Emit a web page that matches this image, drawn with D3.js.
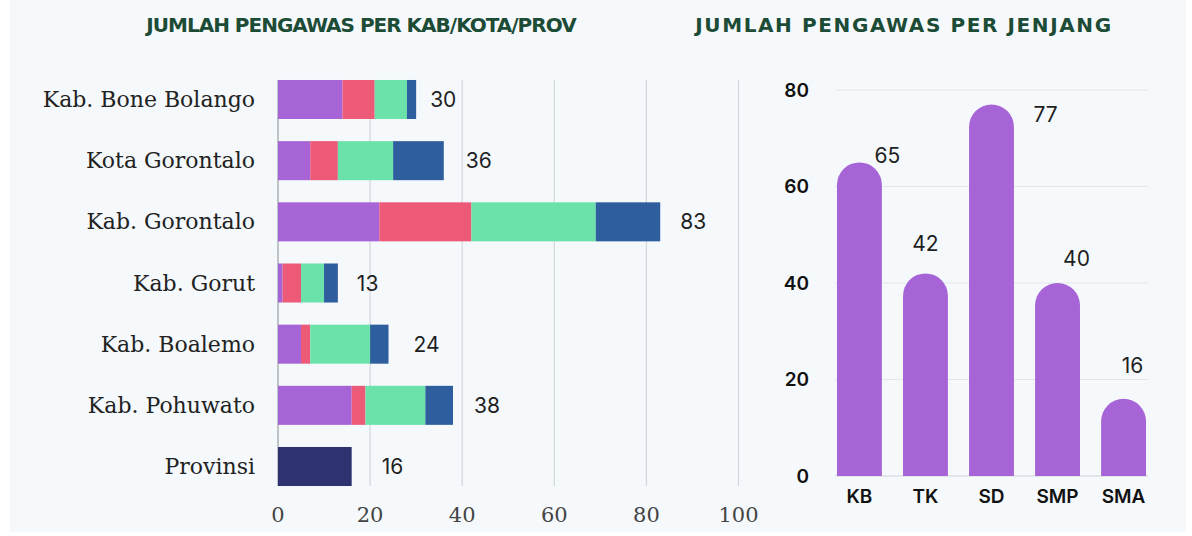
<!DOCTYPE html>
<html>
<head>
<meta charset="utf-8">
<script src="https://cdn.jsdelivr.net/npm/d3@7"></script>
<style>
  html, body { margin: 0; padding: 0; background: #ffffff; }
  svg { display: block; }
</style>
</head>
<body>
<div id="chart"></div>
<script>
// data: pengawas per kab/kota/prov, stacked by jenjang
var regions = ["Kab. Bone Bolango", "Kota Gorontalo", "Kab. Gorontalo", "Kab. Gorut", "Kab. Boalemo", "Kab. Pohuwato", "Provinsi"];
var levels = ["KB", "TK", "SD", "SMP", "SMA"];
var kbByRegion = [14, 7, 22, 1, 5, 16, 0];
var tkByRegion = [7, 6, 20, 4, 2, 3, 0];
var sdByRegion = [7, 12, 27, 5, 13, 13, 0];
var smpByRegion = [2, 11, 14, 3, 4, 6, 0];
var smaByRegion = [0, 0, 0, 0, 0, 0, 16];
var levelTotals = [65, 42, 77, 40, 16];
var hTicks = [0, 20, 40, 60, 80, 100];
var vTicks = [0, 20, 40, 60, 80];

/* colours and label nudges (layout only) */
var colors = { KB: "#a764d6", TK: "#ec5a78", SD: "#6ae2aa", SMP: "#2f5e9e", SMA: "#2f3270" };
var titleColor = "#1c4b36";
var leftLabelGap = [14, 22, 20, 19, 25, 21, 30];
var rightLabelNudge = [[28, -7], [0, -30], [54, 10], [19, -25], [9, -33]];

var W = 1192, H = 536;
var svg = d3.select("#chart").append("svg").attr("width", W).attr("height", H);

/* light panel behind everything */
svg.append("rect").attr("x", 10).attr("y", 0).attr("width", W - 16).attr("height", H - 4)
    .attr("fill", "#f5f9fc");

/* titles */
function title(x, spacing, txt) {
  svg.append("text")
      .attr("x", x).attr("y", 25)
      .attr("text-anchor", "middle").attr("dominant-baseline", "central")
      .attr("font-family", "DejaVu Sans").attr("font-weight", "bold")
      .attr("font-size", 20).attr("letter-spacing", spacing)
      .attr("fill", titleColor)
      .text(txt);
}
title(361, -1, "JUMLAH PENGAWAS PER KAB/KOTA/PROV");
title(904, 1.6, "JUMLAH PENGAWAS PER JENJANG");

/* ---------- left: stacked horizontal bars ---------- */
var rows = regions.map(function (r, i) {
  return { region: r, KB: kbByRegion[i], TK: tkByRegion[i], SD: sdByRegion[i], SMP: smpByRegion[i], SMA: smaByRegion[i] };
});
var x = d3.scaleLinear().domain([0, 100]).range([278, 738.5]);
var y = d3.scaleBand().domain(regions).range([49.4, 516.6]).paddingInner(0.362).paddingOuter(0.5);
var gridTop = y(regions[0]);
var gridBottom = y(regions[regions.length - 1]) + y.bandwidth();

var left = svg.append("g");
left.selectAll("line.grid")
    .data(hTicks)
    .enter().append("line")
    .attr("class", "grid")
    .attr("x1", function (d) { return x(d); })
    .attr("x2", function (d) { return x(d); })
    .attr("y1", gridTop).attr("y2", gridBottom)
    .attr("stroke", function (d) { return d === 0 ? "#9a9ea3" : "#d3d7db"; })
    .attr("stroke-width", 1.2);

var stack = d3.stack().keys(levels)(rows);
left.selectAll("g.layer")
    .data(stack)
    .enter().append("g")
    .attr("fill", function (d) { return colors[d.key]; })
    .selectAll("rect")
    .data(function (d) { return d; })
    .enter().append("rect")
    .attr("x", function (d) { return x(d[0]); })
    .attr("y", function (d) { return y(d.data.region); })
    .attr("width", function (d) { return x(d[1]) - x(d[0]); })
    .attr("height", y.bandwidth());

/* totals */
left.selectAll("text.total")
    .data(rows)
    .enter().append("text")
    .attr("class", "total")
    .attr("x", function (d, i) { return x(d.KB + d.TK + d.SD + d.SMP + d.SMA) + leftLabelGap[i]; })
    .attr("y", function (d) { return y(d.region) + y.bandwidth() / 2; })
    .attr("dominant-baseline", "central")
    .attr("font-family", "Inter").attr("font-size", 21)
    .attr("fill", "#1f1f1f")
    .text(function (d) { return d.KB + d.TK + d.SD + d.SMP + d.SMA; });

/* category labels */
left.selectAll("text.cat")
    .data(regions)
    .enter().append("text")
    .attr("class", "cat")
    .attr("x", 255)
    .attr("y", function (d) { return y(d) + y.bandwidth() / 2; })
    .attr("text-anchor", "end").attr("dominant-baseline", "central")
    .attr("font-family", "DejaVu Serif").attr("font-size", 22)
    .attr("fill", "#222")
    .text(function (d) { return d; });

/* x tick labels */
left.selectAll("text.tick")
    .data(hTicks)
    .enter().append("text")
    .attr("class", "tick")
    .attr("x", function (d) { return x(d); })
    .attr("y", 515)
    .attr("text-anchor", "middle").attr("dominant-baseline", "central")
    .attr("font-family", "DejaVu Serif").attr("font-weight", 300).attr("font-size", 21)
    .attr("fill", "#444")
    .text(function (d) { return d; });

/* ---------- right: rounded vertical bars ---------- */
var bx = d3.scaleBand().domain(levels).range([835, 1148]).paddingInner(0.32).paddingOuter(0.03);
var by = d3.scaleLinear().domain([0, 80]).range([476, 90]);

var right = svg.append("g");
right.selectAll("line.grid")
    .data(vTicks)
    .enter().append("line")
    .attr("class", "grid")
    .attr("x1", 835).attr("x2", 1148)
    .attr("y1", function (d) { return by(d); })
    .attr("y2", function (d) { return by(d); })
    .attr("stroke", function (d) { return d === 0 ? "#cfd3d7" : "#e3e7ea"; })
    .attr("stroke-width", 1.2);

right.selectAll("text.ytick")
    .data(vTicks)
    .enter().append("text")
    .attr("class", "ytick")
    .attr("x", 809)
    .attr("y", function (d) { return by(d); })
    .attr("text-anchor", "end").attr("dominant-baseline", "central")
    .attr("font-family", "Inter").attr("font-weight", 600).attr("font-size", 19)
    .attr("fill", "#111")
    .text(function (d) { return d; });

function roundTop(x0, w, yTop, yBase) {
  var r = w / 2;
  return "M" + x0 + "," + yBase + "V" + (yTop + r) +
      "A" + r + "," + r + " 0 0 1 " + (x0 + w) + "," + (yTop + r) +
      "V" + yBase + "Z";
}

right.selectAll("path.bar")
    .data(levels)
    .enter().append("path")
    .attr("class", "bar")
    .attr("fill", colors.KB)
    .attr("d", function (d, i) { return roundTop(bx(d), bx.bandwidth(), by(levelTotals[i]), by(0)); });

right.selectAll("text.val")
    .data(levels)
    .enter().append("text")
    .attr("class", "val")
    .attr("x", function (d, i) { return bx(d) + bx.bandwidth() / 2 + rightLabelNudge[i][0]; })
    .attr("y", function (d, i) { return by(levelTotals[i]) + rightLabelNudge[i][1]; })
    .attr("text-anchor", "middle").attr("dominant-baseline", "central")
    .attr("font-family", "Inter").attr("font-size", 21)
    .attr("fill", "#1f1f1f")
    .text(function (d, i) { return levelTotals[i]; });

right.selectAll("text.xlab")
    .data(levels)
    .enter().append("text")
    .attr("class", "xlab")
    .attr("x", function (d) { return bx(d) + bx.bandwidth() / 2; })
    .attr("y", 496)
    .attr("text-anchor", "middle").attr("dominant-baseline", "central")
    .attr("font-family", "Inter").attr("font-weight", 600).attr("font-size", 19)
    .attr("fill", "#111")
    .text(function (d) { return d; });
</script>
</body>
</html>
